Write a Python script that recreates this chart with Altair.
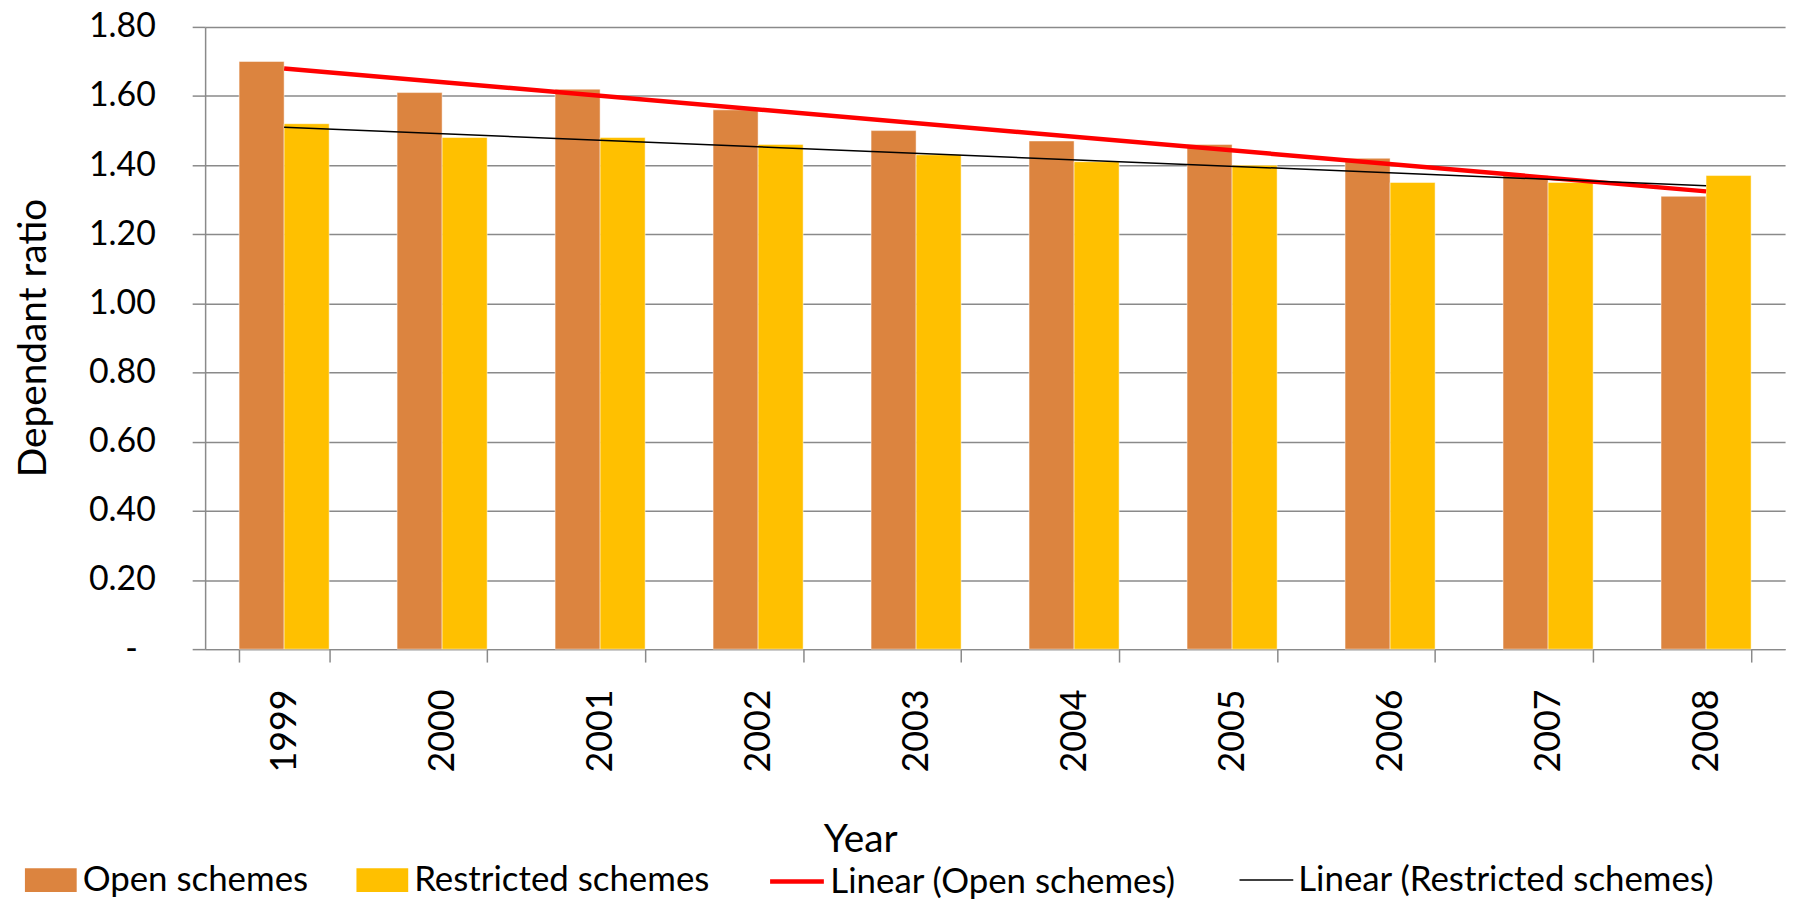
import altair as alt
import pandas as pd

years = ['1999', '2000', '2001', '2002', '2003', '2004', '2005', '2006', '2007', '2008']
open_schemes = [1.70, 1.61, 1.62, 1.56, 1.50, 1.47, 1.46, 1.42, 1.37, 1.31]
restricted_schemes = [1.52, 1.48, 1.48, 1.46, 1.43, 1.41, 1.40, 1.35, 1.35, 1.37]
series_names = ['Open schemes', 'Restricted schemes']
trend_names = ['Linear (Open schemes)', 'Linear (Restricted schemes)']
y_ticks = [0, 0.2, 0.4, 0.6, 0.8, 1.0, 1.2, 1.4, 1.6, 1.8]

rows = []
for i, yr in enumerate(years):
    rows.append({'Year': yr, 'YearNum': int(yr), 'series': series_names[0], 'value': open_schemes[i]})
    rows.append({'Year': yr, 'YearNum': int(yr), 'series': series_names[1], 'value': restricted_schemes[i]})
df = pd.DataFrame(rows)

FONT = 'Lato'
GRAY = '#8A8A8A'
LEGEND_FS = 35

x_scale = alt.Scale(domain=years, paddingInner=0.43, paddingOuter=0.215)
# numeric year scale aligned with the band centres (half a step beyond first/last year)
x_num_scale = alt.Scale(domain=[int(years[0]) - 0.5, int(years[-1]) + 0.5], nice=False, zero=False)
y_scale = alt.Scale(domain=[0, 1.8], nice=False)

x_axis = alt.Axis(
    title='Year', labelAngle=270, labelAlign='right', labelBaseline='middle',
    labelFont=FONT, labelFontSize=36, labelColor='black', labelPadding=27,
    tickSize=13, tickColor=GRAY, tickWidth=1.5, tickBand='extent',
    domainColor=GRAY, domainWidth=1.5, grid=False,
    titleFont=FONT, titleFontSize=39, titleFontWeight='normal', titleColor='black',
    titleX=658, titleY=203, titleBaseline='alphabetic', titleAlign='center',
)
y_axis = alt.Axis(
    title='Dependant ratio', values=y_ticks,
    labelExpr="datum.value == 0 ? '-' : format(datum.value, '.2f')",
    labelFont=FONT, labelFontSize=34, labelColor='black',
    labelPadding={'condition': {'test': 'datum.value == 0', 'value': 55}, 'value': 37},
    labelFlush=False, labelOverlap=False,
    tickSize=13, tickColor=GRAY, tickWidth=1.5,
    domainColor=GRAY, domainWidth=1.5,
    grid=True, gridColor=GRAY, gridWidth=1.5,
    titleFont=FONT, titleFontSize=39, titleFontWeight='normal', titleColor='black',
    titleAngle=270, titleX=-172, titleY=312, titleBaseline='middle', titleAlign='center',
)

base = alt.Chart(df)

bars = base.mark_bar(stroke='#FFFFFF', strokeWidth=0.8, strokeOpacity=0.6).encode(
    x=alt.X('Year:N', scale=x_scale, axis=x_axis),
    xOffset=alt.XOffset('series:N', sort=series_names,
                        scale=alt.Scale(domain=series_names, paddingInner=0, paddingOuter=0)),
    y=alt.Y('value:Q', scale=y_scale, axis=y_axis),
    color=alt.Color('series:N',
                    scale=alt.Scale(domain=series_names, range=['#DC843F', '#FFC000']),
                    legend=alt.Legend(orient='none', legendX=-181, legendY=831, direction='horizontal',
                                      title=None, symbolType='M-1,-0.46H1V0.46H-1Z', symbolSize=2704,
                                      symbolStrokeWidth=0, labelFont=FONT, labelFontSize=LEGEND_FS,
                                      labelColor='black', labelOffset=6, columnPadding=48,
                                      labelLimit=1000)),
)


def trend_layer(series_name, trend_name, colour, width, legend_x):
    return base.transform_filter(
        alt.datum.series == series_name
    ).transform_regression(
        'YearNum', 'value', method='linear'
    ).transform_calculate(
        trend="'" + trend_name + "'",
    ).mark_line(strokeCap='butt', strokeWidth=width).encode(
        x=alt.X('YearNum:Q', scale=x_num_scale, axis=None),
        y=alt.Y('value:Q', scale=y_scale, axis=y_axis),
        color=alt.Color('trend:N', scale=alt.Scale(domain=[trend_name], range=[colour]),
                        legend=alt.Legend(orient='none', legendX=legend_x, legendY=829,
                                          direction='horizontal', title=None, symbolType='stroke',
                                          symbolSize=2916, symbolStrokeWidth=width,
                                          labelFont=FONT, labelFontSize=LEGEND_FS, labelColor='black',
                                          labelOffset=4, labelLimit=1000)),
    )


trend_open = trend_layer(series_names[0], trend_names[0], '#FF0000', 4.5, 565)
trend_restricted = trend_layer(series_names[1], trend_names[1], '#000000', 1.5, 1038)

chart = alt.layer(bars, trend_open, trend_restricted).resolve_scale(
    color='independent', x='independent'
).properties(
    width=1587, height=625,
    autosize=alt.AutoSizeParams(type='none'),
    padding={'left': 198, 'top': 17, 'right': 15, 'bottom': 249},
).configure(font=FONT).configure_view(strokeWidth=0)

chart.save('out.html', embed_options={'renderer': 'svg', 'actions': False})
